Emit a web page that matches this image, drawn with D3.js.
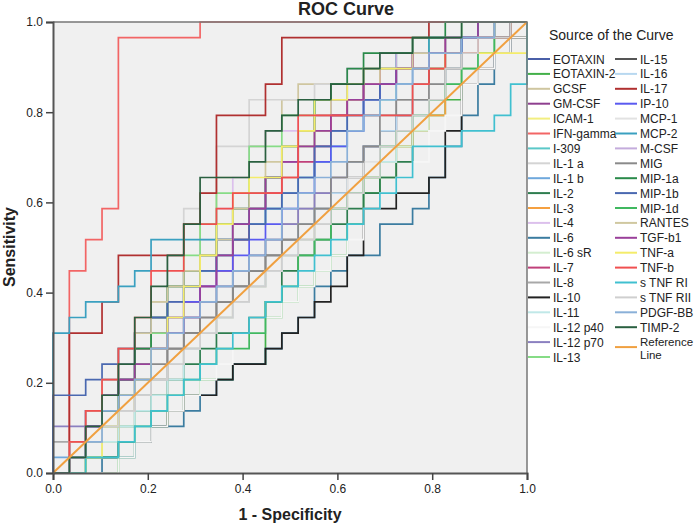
<!DOCTYPE html>
<html>
<head>
<meta charset="utf-8">
<script src="https://cdn.jsdelivr.net/npm/d3@7"></script>
<style>
  body { margin: 0; background: #fff; }
  text { font-family: 'Liberation Sans', Arial, sans-serif; fill: #222; }
</style>
</head>
<body>
<div id="chart"></div>
<script>
// 29 positives and 29 negatives, so every curve steps on a 29 x 29 grid
const steps = 29

const markers = [
  'EOTAXIN', 'EOTAXIN-2', 'GCSF', 'GM-CSF', 'ICAM-1', 'IFN-gamma', 'I-309',
  'IL-1 a', 'IL-1 b', 'IL-2', 'IL-3', 'IL-4', 'IL-6', 'IL-6 sR', 'IL-7',
  'IL-8', 'IL-10', 'IL-11', 'IL-12 p40', 'IL-12 p70', 'IL-13',
  'IL-15', 'IL-16', 'IL-17', 'IP-10', 'MCP-1', 'MCP-2', 'M-CSF', 'MIG',
  'MIP-1a', 'MIP-1b', 'MIP-1d', 'RANTES', 'TGF-b1', 'TNF-a', 'TNF-b',
  's TNF RI', 's TNF RII', 'PDGF-BB', 'TIMP-2'
]

const markerColors = [
  '#4a5fa8', '#43b049', '#cfc6a0', '#8e3f8f', '#f2ee80', '#f26565', '#5bc8c8',
  '#d4d4d4', '#6fa8dc', '#2e7d4f', '#f5a040', '#dcc0ec', '#3b7ca0', '#d4eed0', '#c0407a',
  '#a8a8a8', '#222222', '#c0e8e8', '#f6f6f6', '#8b80c0', '#86dc86',
  '#555555', '#b8d8f0', '#b03030', '#5a5af0', '#e2e2e2', '#3aa0c0', '#c4acdc', '#8a8a8a',
  '#2a8a4a', '#4a68b0', '#40b860', '#d0c8a0', '#9a409a', '#f4ec6a', '#f05050',
  '#40c0d0', '#cfcfcf', '#8ab0d8', '#2a6040'
]

// true positive count reached at each false positive count 0..29
const tprCounts = [
  [0,2,4,6,8,9,10,11,12,14,15,16,17,19,20,21,22,23,24,25,25,26,27,27,28,28,29,29,29,29],
  [0,0,0,0,1,2,3,4,5,6,6,7,7,10,11,12,13,14,16,18,19,21,22,23,24,26,27,28,29,29],
  [0,1,3,5,7,9,11,12,13,16,19,19,21,22,24,25,25,25,25,25,26,26,27,27,28,28,29,29,29,29],
  [0,2,3,4,6,8,10,11,12,13,15,16,18,19,20,22,23,24,24,25,25,26,27,28,28,28,29,29,29,29],
  [0,0,1,2,4,6,8,10,11,13,14,15,17,18,19,21,22,23,24,24,25,26,26,27,27,28,28,29,29,29],
  [0,13,15,17,28,28,28,28,28,29,29,29,29,29,29,29,29,29,29,29,29,29,29,29,29,29,29,29,29,29],
  [0,1,3,5,7,8,10,11,12,13,15,15,16,17,18,19,20,21,22,23,24,25,25,26,27,28,28,29,29,29],
  [0,2,3,5,6,8,11,14,17,18,21,21,24,24,24,24,25,25,26,26,27,27,28,28,28,28,29,29,29,29],
  [1,2,4,5,6,7,9,11,12,13,14,15,16,17,18,19,21,22,23,24,25,25,26,27,28,28,28,29,29,29],
  [0,1,1,2,3,4,5,6,7,8,9,9,10,11,13,14,15,16,17,18,19,20,22,24,26,27,28,29,29,29],
  [0,1,2,2,4,5,6,7,8,9,10,11,12,13,14,15,16,17,18,19,20,21,22,23,25,26,27,28,28,29],
  [0,1,3,4,6,7,9,11,13,15,17,19,21,22,22,23,24,25,26,26,27,27,27,28,28,28,29,29,29,29],
  [0,0,0,1,1,2,3,3,4,5,6,7,7,8,9,10,12,13,14,14,16,16,17,19,21,23,25,27,28,29],
  [0,1,1,2,3,5,6,7,8,9,10,11,12,13,14,15,16,17,18,19,20,21,22,24,25,26,27,28,29,29],
  [0,1,2,4,6,8,9,10,11,12,13,15,17,18,19,20,21,23,24,25,26,26,27,27,28,28,29,29,29,29],
  [2,2,3,5,6,7,8,9,10,11,12,13,14,15,16,17,18,19,20,21,22,24,25,26,27,27,28,28,29,29],
  [0,0,1,1,2,2,3,4,5,5,6,7,7,8,9,10,11,12,14,17,17,18,18,19,22,25,26,27,28,29],
  [0,0,1,2,3,4,5,6,8,9,10,11,12,13,14,15,16,17,18,19,20,22,23,24,25,26,27,28,29,29],
  [0,0,0,0,1,2,3,4,5,6,7,8,9,10,11,12,13,14,15,17,18,19,20,22,23,25,26,27,28,29],
  [3,3,4,5,6,7,8,9,10,11,12,13,14,15,16,17,18,19,20,21,22,23,24,25,26,27,28,28,29,29],
  [0,1,2,3,5,7,9,12,14,16,18,18,21,21,23,23,24,25,25,26,26,27,27,28,28,29,29,29,29,29],
  [0,1,2,3,4,5,6,8,9,10,11,12,13,14,15,16,17,18,19,21,22,23,24,26,27,28,28,29,29,29],
  [0,0,2,3,4,5,6,7,8,9,10,11,12,13,14,16,17,18,20,21,22,23,24,25,26,27,28,28,29,29],
  [0,9,9,11,14,14,14,14,16,18,23,23,23,25,28,28,28,28,28,28,28,28,28,29,29,29,29,29,29,29],
  [0,1,3,4,5,6,8,10,11,12,13,14,15,16,17,18,20,21,22,24,25,26,26,27,27,28,28,28,29,29],
  [0,1,2,3,4,5,6,7,8,9,10,11,12,13,14,15,16,17,19,20,21,22,24,25,26,27,28,29,29,29],
  [9,10,11,11,12,13,15,15,15,15,15,16,17,19,21,22,24,24,25,26,26,27,27,28,28,28,29,29,29,29],
  [0,2,4,6,7,9,10,12,13,14,15,17,18,19,20,22,23,24,25,26,26,27,27,27,28,28,28,28,29,29],
  [0,1,2,4,5,6,7,8,9,10,11,12,13,14,15,16,17,19,20,21,23,24,24,25,26,27,28,28,29,29],
  [0,1,2,4,6,8,10,12,13,14,16,17,18,19,21,22,24,25,26,27,27,27,28,28,29,29,29,29,29,29],
  [5,5,6,7,8,9,10,11,12,13,14,15,16,17,18,19,21,22,23,24,25,26,26,27,27,28,28,29,29,29],
  [0,0,1,1,2,3,4,5,6,7,8,8,9,11,12,14,15,17,18,19,21,22,23,24,25,26,27,28,29,29],
  [0,2,4,6,8,9,11,12,13,14,15,17,18,20,21,22,23,24,24,25,26,26,27,27,28,28,28,29,29,29],
  [0,1,3,5,6,7,8,9,10,12,14,16,17,19,20,21,22,23,24,25,25,26,26,27,28,28,29,29,29,29],
  [0,0,1,3,5,6,8,10,12,14,16,18,19,19,21,22,24,24,25,26,26,26,26,26,27,27,27,27,27,29],
  [0,2,4,6,8,10,13,13,16,16,17,18,18,18,19,23,23,23,23,23,23,23,25,26,27,27,28,28,29,29],
  [0,0,1,1,2,3,4,5,6,7,8,9,10,11,12,13,14,15,16,17,18,19,21,21,21,22,22,23,25,29],
  [0,1,2,3,4,5,6,7,8,9,10,11,12,13,14,15,16,17,18,19,21,22,23,24,26,27,28,28,29,29],
  [0,1,2,4,5,6,8,9,10,11,12,13,14,15,17,18,19,20,22,23,24,25,26,27,27,28,28,29,29,29],
  [0,1,3,5,7,10,12,14,16,19,19,19,20,22,23,24,24,25,25,26,27,27,28,28,28,29,29,29,29,29]
]

const axisTicks = [0, 0.2, 0.4, 0.6, 0.8, 1.0]

let width = 700
let height = 524
let plot = { left: 53, right: 527, top: 22, bottom: 473 }

let svg = d3
  .select('#chart')
  .append('svg')
  .attr('width', width)
  .attr('height', height)

let xScale = d3.scaleLinear().domain([0, 1]).range([plot.left, plot.right])
let yScale = d3.scaleLinear().domain([0, 1]).range([plot.bottom, plot.top])

// plot background
svg
  .append('rect')
  .attr('x', plot.left)
  .attr('y', plot.top)
  .attr('width', plot.right - plot.left)
  .attr('height', plot.bottom - plot.top)
  .attr('fill', '#f0f0f0')

// turn a list of tpr counts into the staircase corners
function staircase(counts) {
  let pts = [[0, 0]]
  counts.forEach((c, k) => {
    pts.push([k / steps, c / steps])
    if (k < steps) pts.push([(k + 1) / steps, c / steps])
  })
  pts.push([1, 1])
  return pts
}

let line = d3
  .line()
  .x(d => xScale(d[0]))
  .y(d => yScale(d[1]))

svg
  .append('g')
  .selectAll('.roc')
  .data(tprCounts)
  .enter()
  .append('path')
  .attr('class', 'roc')
  .attr('d', d => line(staircase(d)))
  .attr('fill', 'none')
  .attr('stroke', (d, i) => markerColors[i])
  .attr('stroke-width', 1.7)

// reference line
svg
  .append('path')
  .attr('d', line([[0, 0], [1, 1]]))
  .attr('stroke', '#f0a040')
  .attr('stroke-width', 2)
  .attr('fill', 'none')

// frame: top and right thin
svg
  .append('path')
  .attr('d', `M${plot.left},${plot.top}H${plot.right}V${plot.bottom}`)
  .attr('stroke', '#777')
  .attr('stroke-width', 1.5)
  .attr('fill', 'none')

let xAxis = svg
  .append('g')
  .attr('transform', `translate(0,${plot.bottom})`)
  .call(d3.axisBottom(xScale).tickValues(axisTicks).tickFormat(d3.format('.1f')).tickSizeOuter(0).tickSize(7).tickPadding(4))

let yAxis = svg
  .append('g')
  .attr('transform', `translate(${plot.left},0)`)
  .call(d3.axisLeft(yScale).tickValues(axisTicks).tickFormat(d3.format('.1f')).tickSizeOuter(0).tickSize(7).tickPadding(3))

;[xAxis, yAxis].forEach(ax => {
  ax.select('.domain').attr('stroke', '#555').attr('stroke-width', 2)
  ax.selectAll('.tick line').attr('stroke', '#444').attr('stroke-width', 1.5)
  ax.selectAll('.tick text')
    .attr('font-size', '12px')
    .attr('font-family', "'Liberation Sans', Arial, sans-serif")
    .attr('fill', '#333')
})

svg
  .append('text')
  .attr('x', 346)
  .attr('y', 15)
  .attr('text-anchor', 'middle')
  .attr('font-size', '18px')
  .attr('font-weight', 'bold')
  .text('ROC Curve')

svg
  .append('text')
  .attr('x', 290)
  .attr('y', 520)
  .attr('text-anchor', 'middle')
  .attr('font-size', '16px')
  .attr('font-weight', 'bold')
  .text('1 - Specificity')

svg
  .append('text')
  .attr('transform', 'translate(15,247) rotate(-90)')
  .attr('text-anchor', 'middle')
  .attr('font-size', '16px')
  .attr('font-weight', 'bold')
  .text('Sensitivity')

// legend
let legend = svg.append('g')

legend
  .append('text')
  .attr('x', 549)
  .attr('y', 40)
  .attr('font-size', '14px')
  .text('Source of the Curve')

let rowY = i => 59 + (i % 21) * 14.9

legend
  .selectAll('.item')
  .data(markers)
  .enter()
  .append('g')
  .attr('transform', (d, i) => `translate(${i < 21 ? 528 : 615},${rowY(i)})`)
  .each(function(d, i) {
    let g = d3.select(this)
    g.append('line')
      .attr('x1', 0)
      .attr('x2', 22)
      .attr('stroke', markerColors[i])
      .attr('stroke-width', 2)
    g.append('text')
      .attr('x', 25)
      .attr('y', 4.5)
      .attr('font-size', '12px')
      .text(d)
  })

let refRow = legend.append('g').attr('transform', `translate(615,${rowY(19) + 5})`)
refRow
  .append('line')
  .attr('x1', 0)
  .attr('x2', 22)
  .attr('stroke', '#f0a040')
  .attr('stroke-width', 2)
refRow
  .append('text')
  .attr('x', 25)
  .attr('y', -1.5)
  .attr('font-size', '11.5px')
  .text('Reference')
refRow
  .append('text')
  .attr('x', 25)
  .attr('y', 11.5)
  .attr('font-size', '11.5px')
  .text('Line')
</script>
</body>
</html>
